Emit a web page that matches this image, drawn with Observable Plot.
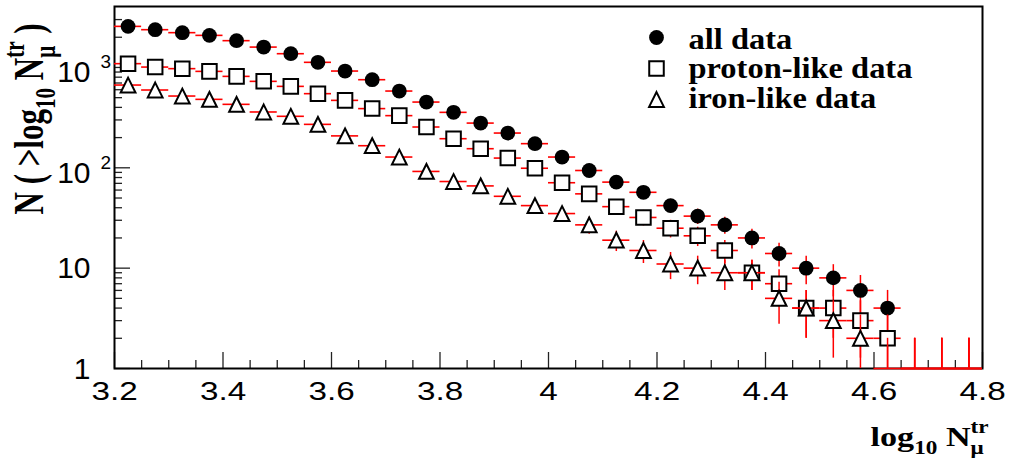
<!DOCTYPE html>
<html><head><meta charset="utf-8">
<script src="https://cdn.jsdelivr.net/npm/d3@7"></script>
<script src="https://cdn.jsdelivr.net/npm/@observablehq/plot@0.6"></script>
<style>html,body{margin:0;padding:0;background:#fff;overflow:hidden}</style>
</head><body><div id="chart"></div>
<script>
// ---- data ----
const binCenters = [3.225, 3.275, 3.325, 3.375, 3.425, 3.475, 3.525, 3.575, 3.625, 3.675, 3.725, 3.775, 3.825, 3.875, 3.925, 3.975, 4.025, 4.075, 4.125, 4.175, 4.225, 4.275, 4.325, 4.375, 4.425, 4.475, 4.525, 4.575, 4.625, 4.675, 4.725, 4.775];
const allData    = [2567, 2379, 2222, 2088, 1849, 1596, 1371, 1125, 921, 755, 582, 452, 357, 279, 222, 174, 128, 94, 72, 57, 42, 33, 27, 20, 14, 10, 8, 6, 4, 0, 0, 0];
const protonLike = [1091, 1009, 973, 914, 815, 727, 648, 548, 470, 389, 331, 255, 195, 155, 125, 99, 71, 55, 41, 32, 25, 21, 15, 9, 7, 4, 4, 3, 2, 0, 0, 0];
const ironLike   = [668, 596, 519, 481, 429, 360, 326, 271, 208, 166, 128, 92, 73, 66, 52, 42, 35, 27, 19, 15, 11, 10, 9, 9, 5, 4, 3, 2, 0, 0, 0, 0];
const binWidth = 0.05;
const zeroBinErrTop = 2;
const seriesNames = ["all data", "proton-like data", "iron-like data"];

const xTicks = [3.2, 3.4, 3.6, 3.8, 4.0, 4.2, 4.4, 4.6, 4.8];
const xTickLabels = ["3.2", "3.4", "3.6", "3.8", "4", "4.2", "4.4", "4.6", "4.8"];
const xMinorTicks = [3.25, 3.3, 3.35, 3.45, 3.5, 3.55, 3.65, 3.7, 3.75, 3.85, 3.9, 3.95, 4.05, 4.1, 4.15, 4.25, 4.3, 4.35, 4.45, 4.5, 4.55, 4.65, 4.7, 4.75];
const yTicks = [1, 10, 100, 1000];
const yTickBase = ["1", "10", "10", "10"];
const yTickExp = ["", "", "2", "3"];
const yMinorTicks = [2, 3, 4, 5, 6, 7, 8, 9, 20, 30, 40, 50, 60, 70, 80, 90, 200, 300, 400, 500, 600, 700, 800, 900, 2000, 3000];
const xTitle = "log_{10} N^{tr}_{μ}";
const yTitle = "N ( >log_{10} N^{tr}_{μ} )";

// ---- layout / style ----
const W = 1009, H = 461;
const mL = 114, mR = 27, mT = 6, mB = 93;
const frameW = W - mL - mR, frameH = H - mT - mB;
const RED = "#ff0000";
const SERIF = "'Liberation Serif', 'Times New Roman', serif";
const SANS = "'Liberation Sans', Arial, sans-serif";

const rootTriangle = {
  draw(ctx, size) {
    const r = Math.sqrt(size / Math.PI);
    ctx.moveTo(0, -r); ctx.lineTo(r, r); ctx.lineTo(-r, r); ctx.closePath();
  }
};
const seriesStyle = [
  {values: allData, symbol: "circle", r: 7.4, fill: "#000", stroke: "none", sw: 0},
  {values: protonLike, symbol: "square", r: 8.2, fill: "#fff", stroke: "#000", sw: 2},
  {values: ironLike, symbol: rootTriangle, r: 7.4, fill: "#fff", stroke: "#000", sw: 2}
];

const marks = [];
// axis ticks (inside the frame)
marks.push(Plot.tickY(yMinorTicks, {y: d => d, insetRight: frameW - 8, stroke: "#222", strokeWidth: 1.3}));
marks.push(Plot.tickY(yTicks, {y: d => d, insetRight: frameW - 16, stroke: "#222", strokeWidth: 1.3}));
marks.push(Plot.tickX(xMinorTicks, {x: d => d, insetTop: frameH - 8, stroke: "#222", strokeWidth: 1.3}));
marks.push(Plot.tickX(xTicks, {x: d => d, insetTop: frameH - 16, stroke: "#222", strokeWidth: 1.3}));
marks.push(Plot.frame({stroke: "#000", strokeWidth: 2}));

// series: error bars then markers
seriesStyle.forEach((s) => {
  const rows = binCenters.map((x, i) => ({x, n: s.values[i]}));
  const pos = rows.filter(d => d.n > 0);
  const zero = rows.filter(d => d.n === 0);
  marks.push(
    Plot.ruleY(rows, {y: d => (d.n > 0 ? d.n : 1), x1: d => d.x - binWidth / 2, x2: d => d.x + binWidth / 2, stroke: RED, strokeWidth: 1.6}),
    Plot.ruleX(pos, {x: "x", y1: d => Math.max(1, d.n - Math.sqrt(d.n)), y2: d => d.n + Math.sqrt(d.n), stroke: RED, strokeWidth: 1.5}),
    Plot.ruleX(zero, {x: "x", y1: () => 1, y2: () => zeroBinErrTop, stroke: RED, strokeWidth: 1.5}),
    Plot.dot(pos, {x: "x", y: "n", symbol: s.symbol, r: s.r, fill: s.fill, stroke: s.stroke, strokeWidth: s.sw})
  );
});

// tick labels
marks.push(Plot.text(xTicks.map((v, i) => ({v, label: xTickLabels[i]})), {
  x: "v", text: "label", frameAnchor: "bottom", dy: 31, lineAnchor: "bottom", textAnchor: "middle",
  fontSize: 26, fontFamily: SANS, fill: "#000"
}));
const yLab = yTicks.map((v, i) => ({v, base: yTickBase[i], exp: yTickExp[i]}));
marks.push(Plot.text(yLab.filter(d => !d.exp), {
  y: "v", text: "base", frameAnchor: "left", dx: -24, dy: 10, lineAnchor: "bottom", textAnchor: "end",
  fontSize: 30, fontFamily: SANS, fill: "#000"
}));
marks.push(Plot.text(yLab.filter(d => d.exp), {
  y: "v", text: "base", frameAnchor: "left", dx: -24, dy: 15, lineAnchor: "bottom", textAnchor: "end",
  fontSize: 30, fontFamily: SANS, fill: "#000"
}));
marks.push(Plot.text(yLab.filter(d => d.exp), {
  y: "v", text: "exp", frameAnchor: "left", dx: -14, dy: 1, lineAnchor: "bottom", textAnchor: "start",
  fontSize: 19, fontFamily: SANS, fill: "#000"
}));

// axis titles
marks.push(Plot.text([xTitle], {
  text: d => d, frameAnchor: "bottom-right", dx: 870 - (W - mR), dy: 445 - (H - mB), textAnchor: "start", lineAnchor: "bottom",
  fontSize: 28, fontWeight: "bold", fontFamily: SERIF, fill: "#000"
}));
marks.push(Plot.text([yTitle], {
  text: d => d, frameAnchor: "top-left", dx: 42 - mL, dy: 214 - mT, rotate: -90, textAnchor: "start", lineAnchor: "bottom",
  fontSize: 31, fontWeight: "bold", fontFamily: SERIF, fill: "#000"
}));

// legend
seriesStyle.forEach((s, i) => {
  marks.push(Plot.dot([seriesNames[i]], {
    frameAnchor: "top-left", dx: 656 - mL, dy: 37 - mT + i * 31, symbol: s.symbol, r: s.r,
    fill: s.fill, stroke: s.stroke, strokeWidth: s.sw
  }));
  marks.push(Plot.text([seriesNames[i]], {
    text: d => d, frameAnchor: "top-left", dx: 688 - mL, dy: 48.3 - mT + i * 29.5, textAnchor: "start", lineAnchor: "bottom",
    fontSize: 29, fontWeight: "bold", fontFamily: SERIF, fill: "#000"
  }));
});

const chart = Plot.plot({
  width: W, height: H,
  marginLeft: mL, marginRight: mR, marginTop: mT, marginBottom: mB,
  x: {domain: [3.2, 4.8], axis: null},
  y: {type: "log", domain: [1, 4050], axis: null},
  style: {background: "#fff", overflow: "visible"},
  marks
});
document.getElementById("chart").appendChild(chart);

// ---- post-processing: sub/superscripts and horizontal stretch of text ----
function stretchText(el, sx) {
  let t = el.getAttribute("transform") || "";
  if (/rotate\(/.test(t)) t = t.replace(/rotate\(/, `scale(${sx},1) rotate(`);
  else t = `${t} scale(${sx},1)`;
  el.setAttribute("transform", t);
}
function richText(el, str, fs) {
  const re = /([_^])\{([^}]*)\}/g;
  const parts = []; let last = 0, m;
  while ((m = re.exec(str))) {
    if (m.index > last) parts.push({t: str.slice(last, m.index), k: ""});
    parts.push({t: m[2], k: m[1]});
    last = re.lastIndex;
  }
  if (last < str.length) parts.push({t: str.slice(last), k: ""});
  while (el.firstChild) el.removeChild(el.firstChild);
  let cur = 0, prev = null, pendingDx = 0;
  for (const p of parts) {
    const ts = document.createElementNS("http://www.w3.org/2000/svg", "tspan");
    const off = p.k === "^" ? -0.45 * fs : p.k === "_" ? 0.3 * fs : 0;
    ts.setAttribute("dy", off - cur); cur = off;
    if (p.k) ts.setAttribute("font-size", 0.68 * fs);
    ts.textContent = p.t;
    el.appendChild(ts);
    if (p.k === "_" && prev && prev.k === "^") {
      const wSup = prev.el.getComputedTextLength();
      ts.setAttribute("dx", -wSup);
      const wSub = ts.getComputedTextLength();
      pendingDx = Math.max(0, wSup - wSub);
    } else if (pendingDx) {
      ts.setAttribute("dx", pendingDx); pendingDx = 0;
    }
    prev = {k: p.k, el: ts};
  }
}
chart.querySelectorAll("text").forEach(el => {
  const s = el.textContent;
  if (s === xTitle) { richText(el, xTitle, 28); stretchText(el, 1.22); }
  else if (s === yTitle) { richText(el, yTitle, 31); stretchText(el, 1.35); }
  else if (seriesNames.includes(s)) stretchText(el, 1.12);
  else if (xTickLabels.includes(s)) stretchText(el, 1.28);
});
</script>
</body></html>
